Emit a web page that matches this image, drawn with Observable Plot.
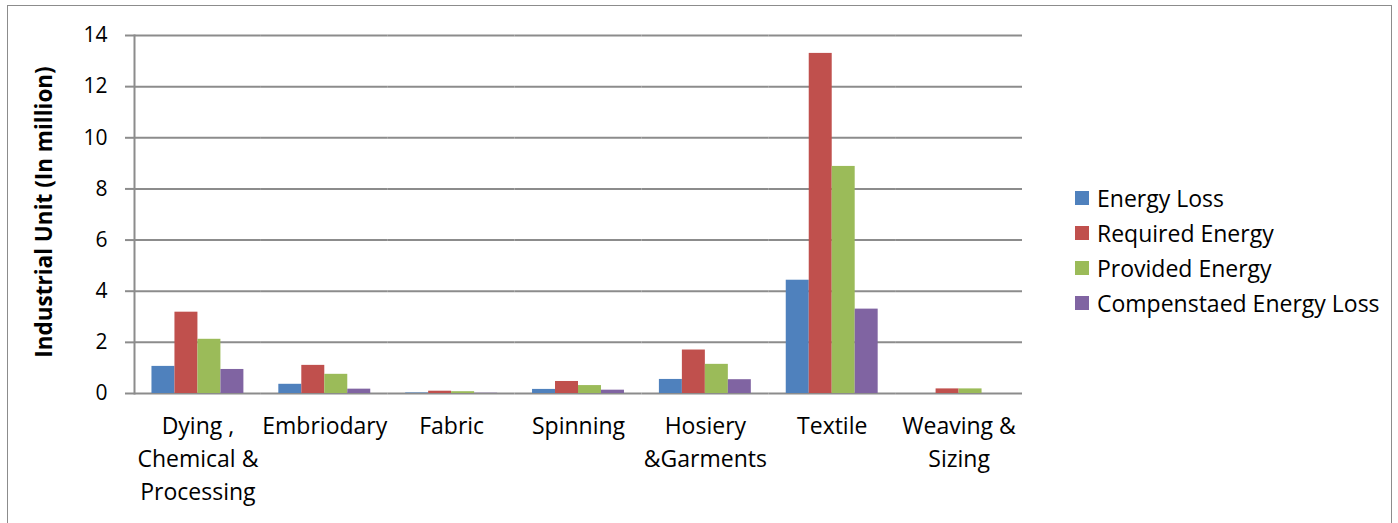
<!DOCTYPE html>
<html><head><meta charset="utf-8">
<script src="https://cdn.jsdelivr.net/npm/d3@7"></script>
<script src="https://cdn.jsdelivr.net/npm/@observablehq/plot@0.6"></script>
<style>
body{margin:0;background:#fff;font-family:"Open Sans",sans-serif;}
#wrap{position:relative;width:1398px;height:523px;overflow:hidden;background:#fff;}
#border{position:absolute;left:7px;top:5px;width:1385px;height:560px;border:1px solid #8c8c8c;box-sizing:border-box;}
#chart{position:absolute;left:0;top:0;}
#ylabel{position:absolute;left:43px;top:212px;transform:translate(-50%,-50%) rotate(-90deg);font-weight:bold;font-size:22.5px;white-space:nowrap;color:#000;}
#legend{position:absolute;left:1075px;top:180px;}
.item{display:flex;align-items:center;height:35px;font-size:23px;color:#000;white-space:nowrap;}
.sw{width:14px;height:14px;margin-right:8px;}
</style></head><body>
<div id="wrap"><div id="border"></div><div id="chart"></div><div id="ylabel">Industrial Unit (In million)</div><div id="legend"></div></div>
<script>
const categories = ["Dying ,\nChemical &\nProcessing","Embriodary","Fabric","Spinning","Hosiery\n&Garments","Textile","Weaving &\nSizing"];
const series = ["Energy Loss","Required Energy","Provided Energy","Compenstaed Energy Loss"];
const colors = ["#4F81BD","#C0504D","#9BBB59","#8064A2"];
const energyLoss      = [1.06,0.36,0.02,0.16,0.55,4.43,0];
const requiredEnergy  = [3.18,1.10,0.09,0.47,1.70,13.30,0.18];
const providedEnergy  = [2.12,0.75,0.07,0.31,1.14,8.88,0.18];
const compensatedLoss = [0.94,0.17,0.01,0.13,0.54,3.30,0];
const yTicks = [0,2,4,6,8,10,12,14];

const seriesValues = [energyLoss, requiredEnergy, providedEnergy, compensatedLoss];
const data = [];
categories.forEach((c, i) => series.forEach((s, j) => data.push({category: c, series: s, value: seriesValues[j][i]})));

const chart = Plot.plot({
  width: 1040, height: 523,
  marginLeft: 134, marginRight: 18, marginTop: 35, marginBottom: 130,
  style: {fontFamily: "'Open Sans', sans-serif", fontSize: "21px", color: "#000", background: "transparent", overflow: "visible"},
  fx: {domain: categories, padding: 0, round: false, label: null},
  x: {domain: series, paddingInner: 0, paddingOuter: 0.76, round: false, axis: null},
  y: {domain: [0, 14], label: null},
  color: {domain: series, range: colors},
  marks: [
    Plot.gridY(yTicks, {stroke: "#8c8c8c", strokeOpacity: 1, strokeWidth: 2}),
    Plot.barY(data, {fx: "category", x: "series", y: "value", fill: "series"}),
    Plot.frame({anchor: "left", stroke: "#8c8c8c", strokeWidth: 2, facetAnchor: "left"}),
    Plot.axisY(yTicks, {tickSize: 9, tickPadding: 18, stroke: "#8c8c8c", strokeWidth: 2, fill: "#000", fontSize: 21, label: null}),
    Plot.axisFx({anchor: "bottom", tickSize: 0, tickPadding: 17, lineHeight: 1.43, fontSize: 23, fill: "#000", label: null})
  ]
});
document.getElementById("chart").appendChild(chart);

const legend = document.getElementById("legend");
series.forEach((s, j) => {
  const item = document.createElement("div");
  item.className = "item";
  item.innerHTML = `<span class="sw" style="background:${colors[j]}"></span><span>${s}</span>`;
  legend.appendChild(item);
});
</script>
</body></html>
